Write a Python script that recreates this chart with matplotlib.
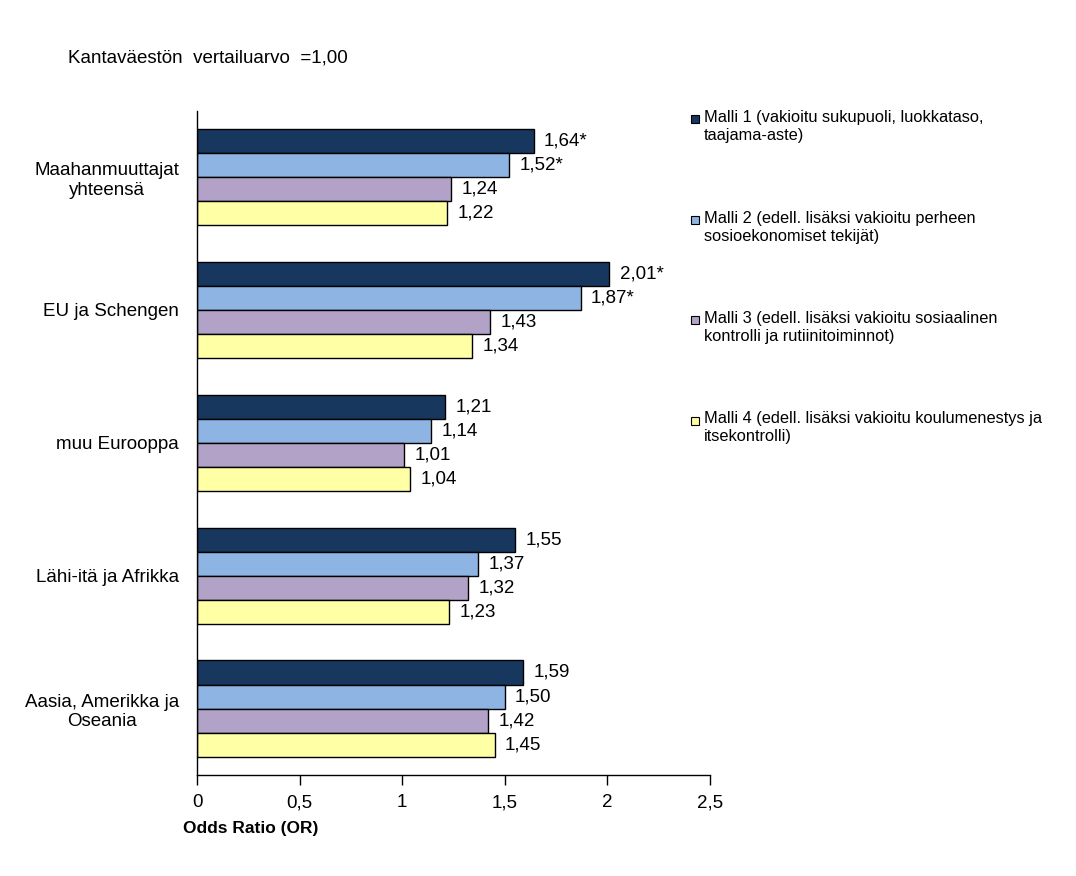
import matplotlib
matplotlib.use("Agg")
from matplotlib import pyplot as plt
from matplotlib.patches import Rectangle
import numpy as np

plt.rcParams['font.family'] = ['Liberation Sans', 'DejaVu Sans']

categories = ['Maahanmuuttajat\nyhteensä', 'EU ja Schengen', 'muu Eurooppa',
              'Lähi-itä ja Afrikka', 'Aasia, Amerikka ja\nOseania']
malli1 = [1.64, 2.01, 1.21, 1.55, 1.59]
malli2 = [1.52, 1.87, 1.14, 1.37, 1.50]
malli3 = [1.24, 1.43, 1.01, 1.32, 1.42]
malli4 = [1.22, 1.34, 1.04, 1.23, 1.45]
signif1 = [True, True, False, False, False]
signif2 = [True, True, False, False, False]
signif3 = [False] * 5
signif4 = [False] * 5
legend_labels = [
    'Malli 1 (vakioitu sukupuoli, luokkataso,\ntaajama-aste)',
    'Malli 2 (edell. lisäksi vakioitu perheen\nsosioekonomiset tekijät)',
    'Malli 3 (edell. lisäksi vakioitu sosiaalinen\nkontrolli ja rutiinitoiminnot)',
    'Malli 4 (edell. lisäksi vakioitu koulumenestys ja\nitsekontrolli)',
]
xticks = [0, 0.5, 1, 1.5, 2, 2.5]
xtick_labels = ['0', '0,5', '1', '1,5', '2', '2,5']

series = [malli1, malli2, malli3, malli4]
stars = [signif1, signif2, signif3, signif4]
colors = ['#17375E', '#8DB4E2', '#B3A2C7', '#FFFFA6']

fig = plt.figure(figsize=(10.76, 8.76), dpi=100)
ax = fig.add_axes([0.1831, 0.1153, 0.4768, 0.7584])

h = 0.181
y = np.arange(len(categories))
for i, (vals, sig, col) in enumerate(zip(series, stars, colors)):
    ys = y + (i - 1.5) * h
    ax.barh(ys, vals, h, color=col, edgecolor='black', linewidth=1)
    for yy, v, s in zip(ys, vals, sig):
        lab = f'{v:.2f}'.replace('.', ',') + ('*' if s else '')
        ax.text(v + 0.05, yy, lab, va='center', ha='left', fontsize=13.5)

ax.set_ylim(len(categories) - 0.5, -0.5)
ax.set_xlim(0, 2.5)
ax.set_yticks(y)
ax.set_yticklabels(categories, fontsize=13.5, multialignment='center')
ax.tick_params(axis='y', length=0, pad=13)
ax.set_xticks(xticks)
ax.set_xticklabels(xtick_labels, fontsize=13.5)
ax.tick_params(axis='x', length=7, width=1, direction='out', pad=7)
for side in ['top', 'right']:
    ax.spines[side].set_visible(False)
for side in ['left', 'bottom']:
    ax.spines[side].set_linewidth(1)

fig.text(183 / 1076, 1 - 829 / 876, 'Odds Ratio (OR)', fontsize=12.5,
         fontweight='bold', ha='left', va='center')
fig.text(68 / 1076, 1 - 58 / 876, 'Kantaväestön  vertailuarvo  =1,00',
         fontsize=13.5, ha='left', va='center')

# legend drawn by hand to get the wide spacing
for i, (lab, col) in enumerate(zip(legend_labels, colors)):
    ytop = 119 + 100.5 * i
    fig.patches.append(Rectangle((691 / 1076, 1 - (ytop + 4) / 876), 8 / 1076, 8 / 876,
                                 transform=fig.transFigure, facecolor=col,
                                 edgecolor='black', linewidth=0.8))
    fig.text(704 / 1076, 1 - (ytop - 9) / 876, lab, fontsize=11.8, ha='left',
             va='top', linespacing=1.25)

fig.savefig('out.png')
